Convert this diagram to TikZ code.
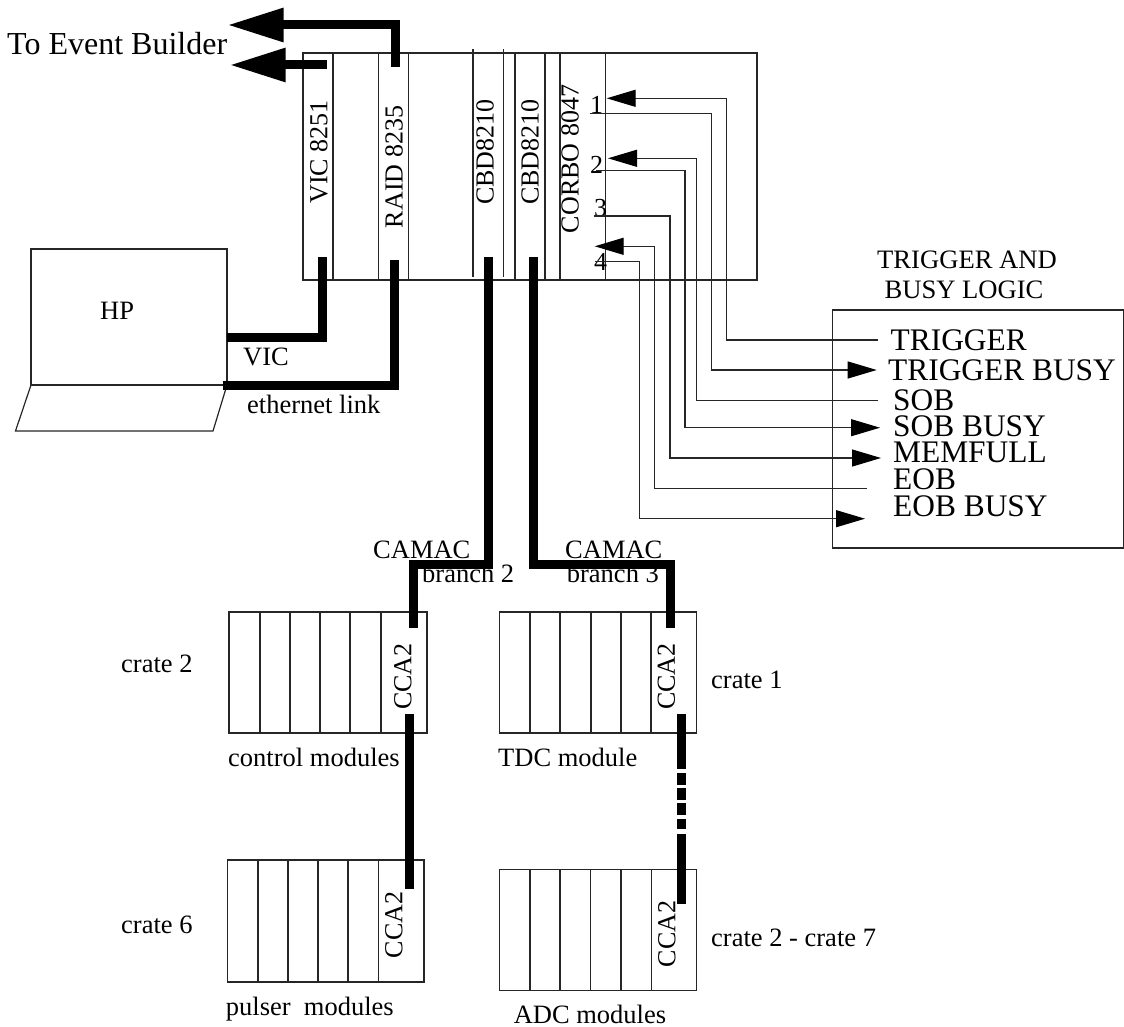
\documentclass[tikz,border=0pt]{standalone}
\usepackage{fontspec}
\setmainfont{Liberation Serif}
\usetikzlibrary{arrows.meta}
\newcommand{\fs}[1]{\fontsize{#1}{#1}\selectfont}
\tikzset{
  thin line/.style={line width=1.2pt,draw=black!85},
  box/.style={thin line,anchor=north west,inner sep=0pt,outer sep=0pt},
  divider/.style={line width=1.1pt,draw=black!85},
  bus/.style={line width=9pt,line cap=butt,line join=miter,draw=black},
  bigbus/.style={bus,-{Triangle[length=56pt,width=32pt,fill=black]}},
  sig/.style={line width=1.2pt,draw=black!85,line join=miter},
  sigin/.style={sig,-{Triangle[length=29pt,width=17pt,fill=black,color=black]}},
  lbl/.style={anchor=base west,inner sep=0pt,font=\fs{26.5}},
  sigl/.style={anchor=base west,inner sep=0pt,font=\fs{31.4}},
  vert/.style={rotate=90,inner sep=0pt,font=\fs{26}},
}
\begin{document}
\begin{tikzpicture}[x=1pt,y=-1pt]
\useasboundingbox (0,0) rectangle (1124,1027);
\fill[white] (0,0) rectangle (1124,1027);

% VME crate
\node[box,draw,minimum width=454pt,minimum height=227pt] (main) at (303,53) {};
\foreach \x in {333,378.6,408.6,515,545,560,605.6}
  \draw[divider] (\x,53) -- (\x,280);
\foreach \x in {473,503.6}
  \draw[divider] (\x,49) -- (\x,277);
\node[vert] (vic) at (319,152) {VIC 8251};
\node[vert] (raid) at (394,167) {RAID 8235};
\node[vert] (cbda) at (485,152) {CBD8210};
\node[vert] (cbdb) at (530,152) {CBD8210};
\node[vert] (corbo) at (570,159) {CORBO 8047};

\node[lbl,font=\fs{26}] (n1) at (590,114) {1};
\node[lbl,font=\fs{26}] (n2) at (590,174) {2};
\node[lbl,font=\fs{26}] (n3) at (594,217) {3};
\node[lbl,font=\fs{26}] (n4) at (594,270) {4};

% HP workstation
\node[box,draw,minimum width=196pt,minimum height=136pt] (hp) at (31,249) {};
\draw[thin line] (31,385) -- (15.5,431) -- (213,431) -- (227,385) -- cycle;
\node[lbl] (hplabel) at (100,319) {HP};
\node[lbl] (viclabel) at (243,365) {VIC};
\node[lbl] (ethlabel) at (247,413) {ethernet link};

% Event builder
\node[anchor=base west,inner sep=0pt,font=\fs{32}] (eb) at (7,55) {To Event Builder};
\coordinate (ebA) at (227.5,25);
\coordinate (ebB) at (229.6,65);
\coordinate (raidT) at (395,67);
\coordinate (vicT) at (327,65);
\draw[bigbus] (raidT) |- (ebA);
\draw[bigbus] (vicT) -- (ebB);

% HP links
\coordinate (vicB) at (322,257);
\coordinate (raidB) at (394,260);
\coordinate (hpV) at (227,337);
\coordinate (hpE) at (223,385.5);
\draw[bus] (vicB) |- (hpV);
\draw[bus] (raidB) |- (hpE);

% Crates
\foreach \nm/\bx/\by/\xa/\xb/\xc/\xd/\xe/\bw/\bh in {
  cratetwo/229/612/260/290/320/350/381/198/121,
  cratesix/227.5/860/258/288/318/348/378.6/196.5/122,
  tdc/499.3/612/530/560/591/621/651/197/121,
  adc/499.3/869.3/530/560/590.7/621/651.4/197/121.4}{
  \node[box,draw,minimum width=\bw pt,minimum height=\bh pt] (\nm) at (\bx,\by) {};
  \foreach \x in {\xa,\xb,\xc,\xd,\xe}
    \draw[divider] (\x,\by) -- (\x,\by+\bh);
}
\node[vert] (ccaA) at (403,676.5) {CCA2};
\node[vert] (ccaB) at (666.5,676.5) {CCA2};
\node[vert] (ccaC) at (394,925) {CCA2};
\node[vert] (ccaD) at (667,934) {CCA2};

\node[lbl] (c2) at (121,672) {crate 2};
\node[lbl] (c6) at (121,933) {crate 6};
\node[lbl] (c1) at (711,688) {crate 1};
\node[lbl] (c27) at (711,946) {crate 2 - crate 7};
\node[lbl] (ctl) at (228,766) {control modules};
\node[lbl] (tdcl) at (498,766.7) {TDC module};
\node[lbl] (pul) at (225.7,1015) {pulser\ \ modules};
\node[lbl] (adcl) at (513.6,1023) {ADC modules};

\node[lbl] (cam1) at (373,558) {CAMAC};
\node[lbl] (br2) at (422,582.7) {branch 2};
\node[lbl] (cam2) at (565,558) {CAMAC};
\node[lbl] (br3) at (566.7,582.7) {branch 3};

% CAMAC branches
\coordinate (cbdaB) at (488.5,257);
\coordinate (cbdbB) at (533.5,257);
\coordinate (twoT) at (413,628);
\coordinate (tdcT) at (670.5,628);
\coordinate (twoB) at (409,714);
\coordinate (sixT) at (409,888.7);
\coordinate (tdcB) at (681,714);
\coordinate (adcT) at (681,904);
\draw[bus] (cbdaB) -- (488.5,564) -| (twoT);
\draw[bus] (cbdbB) -- (533.5,564) -| (tdcT);
\draw[bus] (twoB) -- (sixT);
\draw[bus,dash pattern=on 55pt off 4pt on 12pt off 3pt on 12pt off 3pt on 12pt off 4pt on 10pt off 5pt on 70pt off 100pt] (tdcB) -- (adcT);

% Trigger logic
\node[box,draw,minimum width=291pt,minimum height=238pt] (trig) at (832.3,310) {};
\node[anchor=base,inner sep=0pt,font=\fs{26.6}] (tt1) at (967,268) {TRIGGER AND};
\node[anchor=base,inner sep=0pt,font=\fs{26.6}] (tt2) at (964,298) {BUSY LOGIC};
\node[sigl] (s1) at (890.5,350) {TRIGGER};
\node[sigl] (s2) at (888,380) {TRIGGER BUSY};
\node[sigl] (s3) at (893,410) {SOB};
\node[sigl] (s4) at (893,436.7) {SOB BUSY};
\node[sigl] (s5) at (893,462.7) {MEMFULL};
\node[sigl] (s6) at (893,489) {EOB};
\node[sigl] (s7) at (893,516.7) {EOB BUSY};

\coordinate (p1) at (606.7,98.3);
\coordinate (p2) at (589.5,113.3);
\coordinate (p3) at (608,158.3);
\coordinate (p4) at (596,170.7);
\coordinate (p5) at (594,216);
\coordinate (p6) at (594.7,246.3);
\coordinate (p7) at (594.7,261.3);
\coordinate (q1) at (878.4,340);
\coordinate (q2) at (876.7,370);
\coordinate (q3) at (878.4,400.7);
\coordinate (q4) at (880,427.7);
\coordinate (q5) at (881,458);
\coordinate (q6) at (867,488.3);
\coordinate (q7) at (865,518.7);
\draw[sigin] (q1) -- (726.8,340) |- (p1);
\draw[sigin] (p2) -| (711.4,370) -- (q2);
\draw[sigin] (q3) -- (696.4,400.7) |- (p3);
\draw[sigin] (p4) -| (685,427.7) -- (q4);
\draw[sigin] (p5) -| (670,458) -- (q5);
\draw[sigin] (q6) -- (654.8,488.3) |- (p6);
\draw[sigin] (p7) -| (639.8,518.7) -- (q7);
\end{tikzpicture}
\end{document}
